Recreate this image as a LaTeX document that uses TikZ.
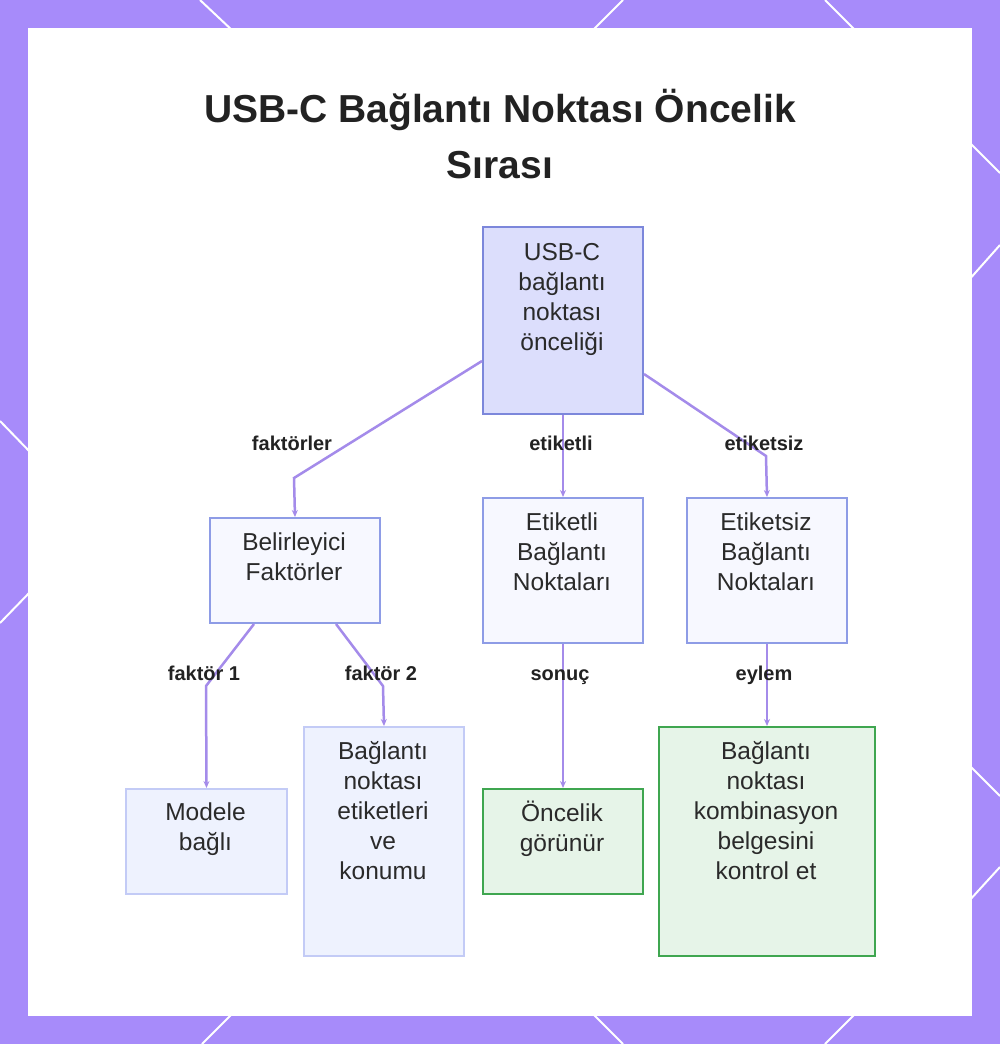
\documentclass[tikz,border=0pt]{standalone}
\usepackage{fontspec}
\setmainfont{Liberation Sans}
\usetikzlibrary{arrows.meta,calc}
\definecolor{bordpurple}{HTML}{A78BFA}
\definecolor{edgec}{HTML}{A48BEA}
\definecolor{rootfill}{HTML}{DCDEFC}
\definecolor{rootdraw}{HTML}{7C87DB}
\definecolor{midfill}{HTML}{F7F8FF}
\definecolor{middraw}{HTML}{8E9CE6}
\definecolor{lightfill}{HTML}{EEF2FE}
\definecolor{lightdraw}{HTML}{C3CBF6}
\definecolor{greenfill}{HTML}{E6F4E8}
\definecolor{greendraw}{HTML}{3FA650}
\definecolor{textc}{HTML}{2A2A2A}
\definecolor{titlec}{HTML}{222222}
\begin{document}
\begin{tikzpicture}[x=1pt,y=-1pt,
  box/.style={draw, line width=2pt, inner sep=0pt, anchor=north west},
  rootbox/.style={box, draw=rootdraw, fill=rootfill},
  midbox/.style={box, draw=middraw, fill=midfill},
  lightbox/.style={box, draw=lightdraw, fill=lightfill},
  greenbox/.style={box, draw=greendraw, fill=greenfill},
  txt/.style={align=center, text=textc, inner sep=0pt, font=\fontsize{24.5}{30}\selectfont},
  lbl/.style={text=titlec, inner sep=0pt, anchor=base, font=\bfseries\fontsize{20}{24}\selectfont},
  ttl/.style={align=center, text=titlec, inner sep=0pt, font=\bfseries\fontsize{39}{56}\selectfont},
  edge/.style={draw=edgec, line width=2.5pt, -{Stealth[length=7pt,width=6pt]}},
  deco/.style={draw=white, line width=2pt}
]
\useasboundingbox (0,0) rectangle (1000,1044);
% frame
\fill[bordpurple] (0,0) rectangle (1000,1044);
\draw[deco] (200,0) -- (234,32);
\draw[deco] (623,0) -- (591,32);
\draw[deco] (825,0) -- (857,32);
\draw[deco] (234,1012) -- (202,1044);
\draw[deco] (591,1012) -- (623,1044);
\draw[deco] (857,1012) -- (825,1044);
\draw[deco] (0,421) -- (32,454);
\draw[deco] (32,590) -- (0,623);
\draw[deco] (968,141) -- (1000,173);
\draw[deco] (968,281) -- (1000,245);
\draw[deco] (968,764) -- (1000,796);
\draw[deco] (968,902) -- (1000,867);
\fill[white] (28,28) rectangle (972,1016);

% title
\node[ttl] (title) at (500,134) {USB-C Bağlantı Noktası Öncelik\\Sırası};

% boxes
\node[rootbox, minimum width=160pt, minimum height=187pt] (root) at (482,226) {};
\node[txt] (rootT) at (562,299) {USB-C\\bağlantı\\noktası\\önceliği};

\node[midbox, minimum width=170pt, minimum height=105pt] (bel) at (209,517) {};
\node[txt] (belT) at (294,557) {Belirleyici\\Faktörler};

\node[midbox, minimum width=160pt, minimum height=145pt] (etl) at (482,497) {};
\node[txt] (etlT) at (562,552) {Etiketli\\Bağlantı\\Noktaları};

\node[midbox, minimum width=160pt, minimum height=145pt] (ets) at (686,497) {};
\node[txt] (etsT) at (766,552) {Etiketsiz\\Bağlantı\\Noktaları};

\node[lightbox, minimum width=161pt, minimum height=105pt] (mod) at (125,788) {};
\node[txt] (modT) at (205.5,829) {Modele\\bağlı};

\node[lightbox, minimum width=160pt, minimum height=229pt] (etk) at (303,726) {};
\node[txt] (etkT) at (383,811) {Bağlantı\\noktası\\etiketleri\\ve\\konumu};

\node[greenbox, minimum width=160pt, minimum height=105pt] (onc) at (482,788) {};
\node[txt] (oncT) at (562,829) {Öncelik\\görünür};

\node[greenbox, minimum width=216pt, minimum height=229pt] (kom) at (658,726) {};
\node[txt] (komT) at (766,811) {Bağlantı\\noktası\\kombinasyon\\belgesini\\kontrol et};

% bend points
\coordinate (b1) at (294,478);
\coordinate (b3) at (766,456);
\coordinate (b4) at (206,686);
\coordinate (b5) at (383,686);

% edges
\draw[edge] ([yshift=-40.5pt]root.west) -- (b1) -- (bel.north);
\draw[edge] (root.south) -- (etl.north);
\draw[edge] ([yshift=-53.5pt]root.east) -- (b3) -- (ets.north);
\draw[edge] ([xshift=-41pt]bel.south) -- (b4) -- (mod.north);
\draw[edge] ([xshift=41pt]bel.south) -- (b5) -- (etk.north);
\draw[edge] (etl.south) -- (onc.north);
\draw[edge] (ets.south) -- (kom.north);

% labels
\node[lbl] (l1) at (292,450) {faktörler};
\node[lbl] (l2) at (561,450) {etiketli};
\node[lbl] (l3) at (764,450) {etiketsiz};
\node[lbl] (l4) at (204,680) {faktör 1};
\node[lbl] (l5) at (381,680) {faktör 2};
\node[lbl] (l6) at (560,680) {sonuç};
\node[lbl] (l7) at (764,680) {eylem};
\end{tikzpicture}
\end{document}
